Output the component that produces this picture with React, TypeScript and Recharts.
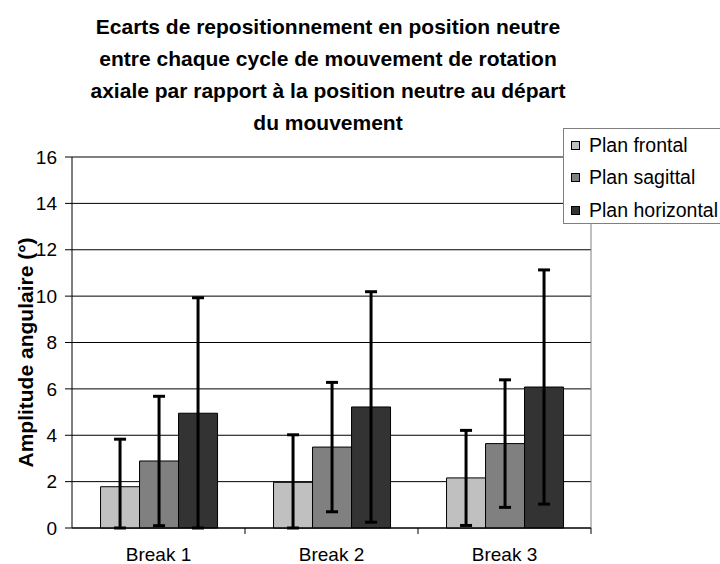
import React from 'react';
import { BarChart, Bar, XAxis, YAxis, CartesianGrid, ErrorBar, Legend, ReferenceLine } from 'recharts';

const categories = ['Break 1', 'Break 2', 'Break 3'];
const frontal = [1.78, 1.97, 2.16];
const frontalErr = [2.05, 2.05, 2.05];
const sagittal = [2.89, 3.49, 3.64];
const sagittalErr = [2.79, 2.79, 2.75];
const horizontal = [4.95, 5.22, 6.08];
const horizontalErr = [4.98, 4.97, 5.05];
const yTicks = [0, 2, 4, 6, 8, 10, 12, 14, 16];
const titleLines = [
  'Ecarts de repositionnement en position neutre',
  'entre chaque cycle de mouvement de rotation',
  'axiale par rapport à la position neutre au départ',
  'du mouvement',
];
const series = [
  { key: 'frontal', name: 'Plan frontal', color: '#C0C0C0' },
  { key: 'sagittal', name: 'Plan sagittal', color: '#808080' },
  { key: 'horizontal', name: 'Plan horizontal', color: '#333333' },
];

// error bars are clipped at the axis (value axis starts at 0)
const clipErr = (v: number, e: number) => [Math.min(e, v), e];

const data = categories.map((c, i) => ({
  name: c,
  frontal: frontal[i],
  frontalErr: clipErr(frontal[i], frontalErr[i]),
  sagittal: sagittal[i],
  sagittalErr: clipErr(sagittal[i], sagittalErr[i]),
  horizontal: horizontal[i],
  horizontalErr: clipErr(horizontal[i], horizontalErr[i]),
}));

const FONT = '"Liberation Sans", Arial, sans-serif';
const TICK_MARGIN = 20;

const LegendBox = () => (
  <div
    style={{
      width: 170,
      height: 96,
      border: '1px solid #808080',
      background: '#fff',
      boxSizing: 'border-box',
      fontFamily: FONT,
      fontSize: 19.5,
      color: '#000',
    }}
  >
    {series.map((s) => (
      <div key={s.key} style={{ height: 32.5, display: 'flex', alignItems: 'center' }}>
        <div
          style={{
            width: 9,
            height: 9,
            boxSizing: 'border-box',
            border: '1px solid #000',
            background: s.color,
            marginLeft: 7,
            marginRight: 9,
          }}
        />
        <span style={{ whiteSpace: 'nowrap' }}>{s.name}</span>
      </div>
    ))}
  </div>
);

const YLabel = (props: any) => {
  const vb = props.viewBox || { x: 0, y: 0, width: 0, height: 0 };
  const cx = vb.x + 25;
  const cy = vb.y + vb.height / 2 + 10;
  return (
    <text
      x={cx}
      y={cy}
      transform={`rotate(-90, ${cx}, ${cy})`}
      textAnchor="middle"
      dominantBaseline="central"
      fontFamily={FONT}
      fontSize={21}
      fontWeight="bold"
      fill="#000"
    >
      Amplitude angulaire (°)
    </text>
  );
};

// category label plus a tick mark at the right boundary of each category band
const CatTick = (props: any) => {
  const { x, y, payload } = props;
  const half = payload && typeof payload.offset === 'number' ? payload.offset : 0;
  const axisY = y - TICK_MARGIN;
  return (
    <g>
      <line x1={x + half} x2={x + half} y1={axisY} y2={axisY + 6} stroke="#000" strokeWidth={1} />
      <text x={x} y={y} dy="0.71em" textAnchor="middle" fontFamily={FONT} fontSize={19} fill="#000">
        {payload.value}
      </text>
    </g>
  );
};

export default function App() {
  return (
    <div style={{ position: 'absolute', left: 0, top: 0, width: 720, height: 564, overflow: 'hidden', background: '#fff' }}>
      <div
        style={{
          position: 'absolute',
          left: 28,
          top: 11,
          width: 600,
          textAlign: 'center',
          fontFamily: FONT,
          fontSize: 21,
          fontWeight: 'bold',
          lineHeight: '32px',
          color: '#000',
          zIndex: 2,
        }}
      >
        {titleLines.map((l) => (
          <div key={l}>{l}</div>
        ))}
      </div>
      <BarChart
        width={720}
        height={564}
        data={data}
        margin={{ top: 157, right: 129, bottom: 0, left: 0 }}
        barCategoryGap="16.5%"
        barGap={0}
      >
        <CartesianGrid vertical={false} stroke="#000" />
        <XAxis
          dataKey="name"
          height={36}
          tickLine={false}
          tickSize={0}
          tickMargin={TICK_MARGIN}
          axisLine={{ stroke: '#000' }}
          tick={<CatTick />}
        />
        <YAxis
          width={72}
          domain={[0, 16]}
          ticks={yTicks}
          tickSize={7}
          tickMargin={8}
          axisLine={{ stroke: '#000' }}
          tickLine={{ stroke: '#000' }}
          tick={{ fill: '#000', fontSize: 19, fontFamily: FONT }}
          label={<YLabel />}
        />
        <ReferenceLine x="Break 3" position="end" stroke="#808080" />
        {series.map((s) => (
          <Bar
            key={s.key}
            dataKey={s.key}
            name={s.name}
            fill={s.color}
            stroke="#000"
            strokeWidth={1}
            isAnimationActive={false}
          >
            <ErrorBar dataKey={`${s.key}Err`} width={6} strokeWidth={3} stroke="#000" direction="y" isAnimationActive={false} />
          </Bar>
        ))}
        <Legend
          layout="horizontal"
          verticalAlign="middle"
          align="center"
          content={<LegendBox />}
          wrapperStyle={{ position: 'absolute', left: 563, top: 128, width: 170, height: 96 }}
        />
      </BarChart>
    </div>
  );
}
